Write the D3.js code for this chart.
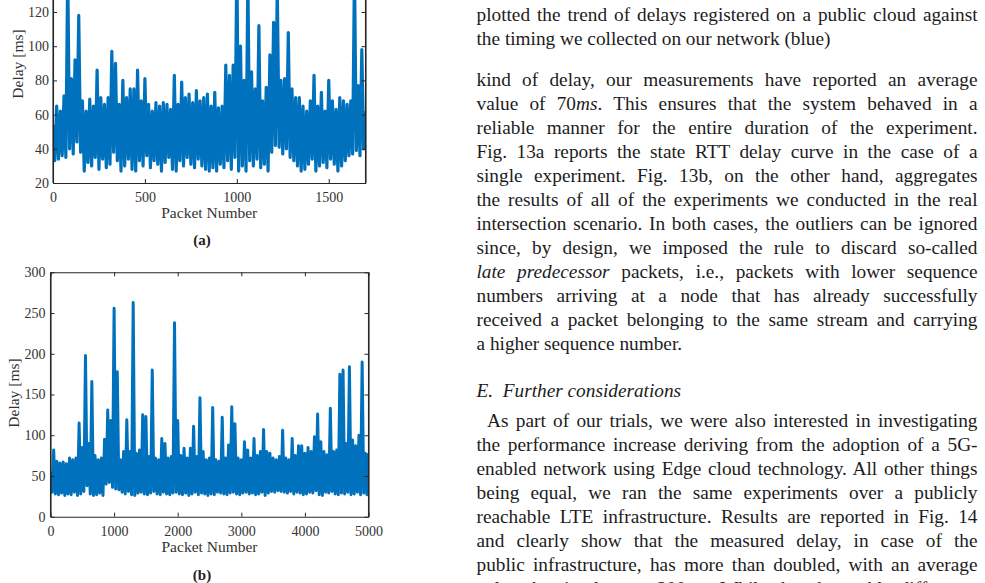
<!DOCTYPE html>
<html><head><meta charset="utf-8">
<script src="https://cdn.jsdelivr.net/npm/d3@7"></script>
<style>html,body{margin:0;padding:0;background:#fff;} svg{display:block;}</style>
</head><body>
<svg id="page" width="985" height="583"></svg>
<script>
// ---------- Figure (a): single experiment ----------
const stepA = 10; // packets between consecutive samples
// samples at packets 0,20,40,...,1700 (upper excursions)
const peaksA = [54,65,62,71,145,81,92,118,68,62, 69,65,86,70,66,70,97,90,66,80,
  70,75,75,86,68,81,66,62,67,65, 67,66,63,83,66,79,70,72,67,74,
  68,70,72,65,73,64,65,89,83,89, 150,100,80,140,85,75,112,68,76,95,
  114,135,80,81,108,75,70,70,65,62, 68,83,65,73,62,80,68,63,70,68,
  66,68,145,77,98,62];
// samples at packets 10,30,...,1690 (lower excursions)
const troughsA = [33,34,36,35,40,37,44,38,27,32, 30,35,28,34,29,31,38,33,27,30,
  34,28,27,33,30,36,29,33,31,27, 32,35,28,27,33,30,35,31,29,34,
  30,28,27,29,27,31,29,33,28,35, 27,30,27,33,30,34,29,31,27,38,
  42,41,37,40,35,33,30,27,28,31, 34,27,30,32,29,34,31,27,30,33,
  36,37,39,36,40];
const xTicksA = [0,500,1000,1500];
const yTicksA = [20,40,60,80,100,120];

// ---------- Figure (b): all experiments ----------
const stepB = 25;
// samples at packets 0,50,...,5000
const peaksB = [55,82,68,66,67,65,72,70,72,115, 85,198,90,166,75,70,72,95,131,118,
  256,178,70,80,119,80,263,78,82,125, 123,74,180,72,70,96,90,72,74,238,
  118,75,84,72,84,111,74,146,80,70, 72,134,70,68,122,72,88,135,114,72,
  70,92,82,72,96,75,80,107,80,78, 72,70,74,106,72,70,96,75,87,87,
  78,85,80,98,126,92,80,76,133,80, 82,175,180,90,184,94,87,100,190,78,
  78];
// samples at packets 25,75,...,4975
const troughsB = [30,28,27,29,26,28,27,30,26,28, 31,38,28,26,27,29,26,40,42,36,
  34,33,30,28,31,27,26,29,30,28, 27,29,31,28,27,30,28,27,29,30,
  28,27,29,26,28,30,27,29,28,26, 28,27,30,29,28,27,29,30,28,27,
  29,30,28,29,27,28,30,26,29,31, 30,32,31,30,29,31,28,30,29,27,
  28,30,29,32,27,26,30,29,31,28, 27,29,28,30,27,28,30,27,29,27];
const xTicksB = [0,1000,2000,3000,4000,5000];
const yTicksB = [0,50,100,150,200,250,300];

// ---------- Text column ----------
const captionLines = [
  "plotted the trend of delays registered on a public cloud against",
  "the timing we collected on our network (blue)"
];
const para1Lines = [
  "kind of delay, our measurements have reported an average",
  "value of 70*ms*. This ensures that the system behaved in a",
  "reliable manner for the entire duration of the experiment.",
  "Fig. 13a reports the state RTT delay curve in the case of a",
  "single experiment. Fig. 13b, on the other hand, aggregates",
  "the results of all of the experiments we conducted in the real",
  "intersection scenario. In both cases, the outliers can be ignored",
  "since, by design, we imposed the rule to discard so-called",
  "*late predecessor* packets, i.e., packets with lower sequence",
  "numbers arriving at a node that has already successfully",
  "received a packet belonging to the same stream and carrying",
  "a higher sequence number."
];
const sectionHeading = "E.  Further considerations";
const para2Lines = [
  "As part of our trials, we were also interested in investigating",
  "the performance increase deriving from the adoption of a 5G-",
  "enabled network using Edge cloud technology. All other things",
  "being equal, we ran the same experiments over a publicly",
  "reachable LTE infrastructure. Results are reported in Fig. 14",
  "and clearly show that the measured delay, in case of the",
  "public infrastructure, has more than doubled, with an average",
  "value that is close to 200*ms*. While the observable difference"
];

const svg = d3.select('#page');
svg.append('rect').attr('width',985).attr('height',583).attr('fill','#fff');

const SERIF = "'Liberation Serif','Times New Roman',serif";
const AXIS = '#262626';

function drawChart(c) {
  const x = d3.scaleLinear().domain(c.xDomain).range(c.xRange);
  const y = d3.scaleLinear().domain(c.yDomain).range(c.yRange);
  const series = [];
  c.peaks.forEach((v, i) => {
    series.push([2 * i * c.step, v]);
    if (i < c.troughs.length) series.push([(2 * i + 1) * c.step, c.troughs[i]]);
  });
  const g = svg.append('g');
  const clipId = 'clip' + c.id;
  const [x0, x1] = x.range();
  const [yb, yt] = y.range();
  svg.append('clipPath').attr('id', clipId).append('rect')
    .attr('x', x0).attr('y', yt).attr('width', x1 - x0).attr('height', yb - yt);
  g.append('path').datum(series)
    .attr('d', d3.line().x(d => x(d[0])).y(d => y(d[1])))
    .attr('fill', 'none').attr('stroke', '#0072BD').attr('stroke-width', c.lw)
    .attr('stroke-linejoin', 'round').attr('clip-path', `url(#${clipId})`);

  function style(sel, fs) {
    sel.attr('font-family', SERIF).attr('font-size', fs);
    sel.selectAll('.domain').attr('stroke', AXIS).attr('stroke-width', 1.1);
    sel.selectAll('.tick line').attr('stroke', AXIS).attr('stroke-width', 1);
    sel.selectAll('.tick text').attr('fill', '#333');
  }
  const fmt = d3.format('d');
  const gB = g.append('g').attr('transform', `translate(0,${yb})`)
    .call(d3.axisBottom(x).tickValues(c.xTicks).tickSize(-4).tickSizeOuter(0).tickPadding(c.xPad).tickFormat(fmt));
  style(gB, 14);
  const gT = g.append('g').attr('transform', `translate(0,${yt})`)
    .call(d3.axisTop(x).tickValues(c.xTicks).tickSize(-4).tickSizeOuter(0).tickFormat(''));
  style(gT, 14);
  const gL = g.append('g').attr('transform', `translate(${x0},0)`)
    .call(d3.axisLeft(y).tickValues(c.yTicks).tickSize(-4).tickSizeOuter(0).tickPadding(c.yPad).tickFormat(fmt));
  style(gL, 14);
  const gR = g.append('g').attr('transform', `translate(${x1},0)`)
    .call(d3.axisRight(y).tickValues(c.yTicks).tickSize(-4).tickSizeOuter(0).tickFormat(''));
  style(gR, 14);
  // frame lines spanning the full axes box
  g.append('line').attr('x1', x0).attr('x2', x0).attr('y1', yb).attr('y2', yt).attr('stroke', AXIS).attr('stroke-width', 1.1);
  g.append('line').attr('x1', x1).attr('x2', x1).attr('y1', yb).attr('y2', yt).attr('stroke', AXIS).attr('stroke-width', 1.1);

  g.append('text').attr('x', (x0 + x1) / 2).attr('y', c.xLabelY)
    .attr('text-anchor', 'middle').attr('font-family', SERIF).attr('font-size', 15.5)
    .attr('fill', '#333').text('Packet Number');
  g.append('text').attr('transform', `translate(${c.yLabelX},${c.yLabelC}) rotate(-90)`)
    .attr('text-anchor', 'middle').attr('font-family', SERIF).attr('font-size', 15.5)
    .attr('fill', '#333').text('Delay [ms]');
  g.append('text').attr('x', 202).attr('y', c.subY)
    .attr('text-anchor', 'middle').attr('font-family', SERIF).attr('font-size', 15)
    .attr('font-weight', 'bold').attr('fill', '#222').text(c.sub);
}

drawChart({id: 'a', step: stepA, peaks: peaksA, troughs: troughsA, lw: 3.2,
  xDomain: [0, 1700], xRange: [53, 365.5], yDomain: [20, 160], yRange: [183, -56.4],
  xTicks: xTicksA, yTicks: yTicksA, xPad: 9, yPad: 4,
  xLabelY: 218, yLabelX: 23, yLabelC: 64, subY: 245, sub: '(a)'});
drawChart({id: 'b', step: stepB, peaks: peaksB, troughs: troughsB, lw: 3.0,
  xDomain: [0, 5000], xRange: [50.5, 368.5], yDomain: [0, 300], yRange: [516.7, 272.3],
  xTicks: xTicksB, yTicks: yTicksB, xPad: 9, yPad: 5,
  xLabelY: 552, yLabelX: 19, yLabelC: 393, subY: 580, sub: '(b)'});

// ---------- text column ----------
const colX = 476.5, colW = 501, FS = 19.3, LEAD = 24;
const tg = svg.append('g').attr('font-family', SERIF).attr('font-size', FS).attr('fill', '#1c1c1c');
function textLine(str, x, y, width, justify, italicAll) {
  const t = tg.append('text').attr('x', x).attr('y', y).attr('xml:space', 'preserve');
  str.split('*').forEach((p, i) => {
    if (p) t.append('tspan').attr('font-style', (italicAll || i % 2) ? 'italic' : 'normal').text(p);
  });
  if (justify) {
    const nat = t.node().getComputedTextLength();
    const spaces = (str.replace(/\*/g, '').match(/ /g) || []).length;
    if (spaces) t.attr('word-spacing', (width - nat) / spaces);
  }
}
function paragraph(lines, y0, indent, lastIsEnd) {
  lines.forEach((s, i) => {
    const ind = i === 0 ? indent : 0;
    const last = lastIsEnd && i === lines.length - 1;
    textLine(s, colX + ind, y0 + i * LEAD, colW - ind, !last, false);
  });
}
paragraph(captionLines, 20.5, 0, true);
paragraph(para1Lines, 86, 0, true);
textLine(sectionHeading, colX, 397, colW, false, true);
paragraph(para2Lines, 427, 10.5, false);
</script>
</body></html>
